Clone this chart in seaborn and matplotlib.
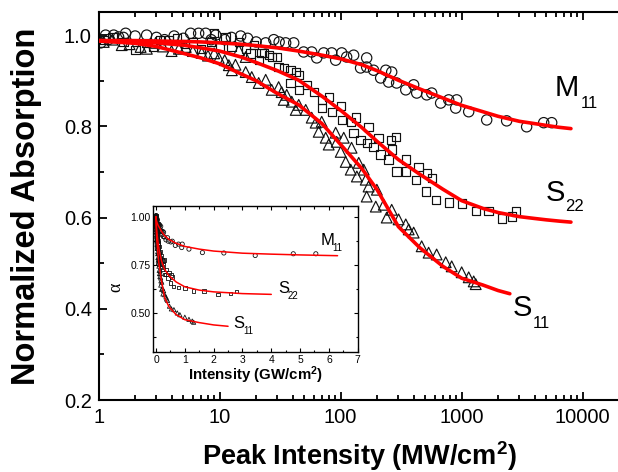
import numpy as np
import matplotlib
matplotlib.use("Agg")
import matplotlib.pyplot as plt
import seaborn as sns
from matplotlib.ticker import (MultipleLocator, LogLocator, NullFormatter,
                               FuncFormatter, FormatStrFormatter)

# ---------------- data (MW/cm^2, normalized absorption) ----------------
m11_x = [1.04, 1.14, 1.2, 1.33, 1.46, 1.6, 1.67, 2.0, 2.49, 3.0, 3.5, 4.2, 5.0, 5.75,
         6.7, 7.66, 8.5, 9.27, 11, 12.5, 14.9, 17, 20, 24, 28, 31, 35.1, 40.9,
         49.4, 57.6, 63.4, 72.4, 84.3, 90.9, 102, 112, 128, 146, 164, 164, 187, 214,
         236, 249, 264, 290, 345, 401, 425, 514, 565, 670, 781, 892, 910, 1143,
         1610, 2354, 3443, 4764, 5546]
m11_y = [0.983, 1.0, 0.99, 1.0, 0.996, 0.995, 1.004, 0.998, 1.0, 0.995, 0.99, 0.998,
         0.993, 1.004, 1.004, 1.004, 0.99, 1.0, 0.99, 0.995, 0.998, 0.993, 0.985,
         0.983, 0.99, 0.985, 0.983, 0.983,
         0.963, 0.963, 0.950, 0.961, 0.961, 0.945, 0.961, 0.952, 0.956, 0.928, 0.950,
         0.930, 0.923, 0.906, 0.923, 0.897, 0.919, 0.895, 0.880, 0.891, 0.873, 0.869,
         0.873, 0.851, 0.858, 0.840, 0.858, 0.832, 0.814, 0.812, 0.799, 0.808, 0.808]

s22_x = [1.1, 1.3, 1.6, 2.02, 2.45, 2.8, 3.2, 3.79, 4.41, 5.2, 6.0, 7.0, 8.43, 8.92,
         10, 11.2, 12.5, 14.4, 16.5, 18, 19.1, 21.0, 22.2, 23.1, 25.4, 26.9, 29.6,
         30.7, 33.8, 38.6, 38.6, 42.5, 45, 45,
         52.4, 59.8, 69.7, 79.6, 69.7, 84.3, 100, 102, 121, 133, 128, 146, 170, 164,
         187, 206, 214, 249, 264, 259, 285, 290, 345, 345, 417, 441, 514, 565, 504,
         610, 781, 1000, 1306, 1671, 2142, 2590, 2794]
s22_y = [0.99, 0.995, 0.985, 0.967, 0.983, 0.975, 0.99, 0.989, 0.993, 0.98, 0.985,
         0.97, 0.985, 1.004, 0.975, 0.996, 0.975, 0.985, 0.97, 0.96, 0.978, 0.945,
         0.961, 0.961, 0.956, 0.952, 0.952, 0.930, 0.928, 0.923, 0.895, 0.919, 0.913,
         0.880,
         0.891, 0.875, 0.858, 0.864, 0.840, 0.832, 0.845, 0.814, 0.810, 0.819, 0.786,
         0.770, 0.799, 0.764, 0.755, 0.775, 0.738, 0.727, 0.749, 0.770, 0.777, 0.701,
         0.727, 0.701, 0.683, 0.711, 0.698, 0.687, 0.657, 0.639, 0.633, 0.631, 0.615,
         0.615, 0.598, 0.602, 0.613]

s11_x = [1.1, 1.3, 1.55, 1.8, 2.22, 2.5, 2.96, 3.4, 4.0, 4.6, 5.24, 6.0, 7.1, 8.0,
         9.0, 9.81, 11, 11.9, 12.6, 13.5, 14.4, 16.4, 16.4, 18.4, 21.0, 24.0, 26.9,
         30.7, 32.5, 33.8, 35.8, 39.4, 42.5, 45.0,
         51.4, 57.6, 62.1, 69.7, 65.8, 75.2, 79.6, 90.9, 92.7, 106, 100, 123, 110,
         121, 141, 155, 136, 161, 170, 199, 164, 195, 227, 264, 240, 301, 345, 365,
         401, 467, 533, 621, 738, 827, 1000, 1143, 1257, 1306]
s11_y = [0.985, 0.99, 0.978, 0.98, 0.974, 0.97, 0.983, 0.975, 0.965, 0.97, 0.974,
         0.965, 0.961, 0.955, 0.96, 0.950, 0.945, 0.934, 0.923, 0.935, 0.967, 0.919,
         0.952, 0.908, 0.895, 0.902, 0.880, 0.886, 0.875, 0.858, 0.869, 0.854, 0.836,
         0.847,
         0.836, 0.819, 0.808, 0.810, 0.788, 0.775, 0.760, 0.786, 0.766, 0.775, 0.744,
         0.753, 0.722, 0.705, 0.720, 0.705, 0.690, 0.683, 0.668, 0.661, 0.646, 0.624,
         0.628, 0.617, 0.600, 0.596, 0.585, 0.574, 0.567, 0.537, 0.523, 0.519, 0.502,
         0.493, 0.480, 0.469, 0.460, 0.454]

# fitted curves
fit_m11_x = [1, 2, 3, 5, 7, 10, 15, 20, 30, 45, 70, 100, 150, 200, 300, 450, 700,
             1000, 1500, 2000, 3000, 4000, 5000, 6300, 8000]
fit_m11_y = [0.988, 0.988, 0.987, 0.986, 0.985, 0.983, 0.980, 0.977, 0.972, 0.965,
             0.956, 0.948, 0.935, 0.922, 0.901, 0.882, 0.862, 0.846, 0.832, 0.822,
             0.811, 0.806, 0.802, 0.798, 0.795]
fit_s22_x = [1, 2, 3, 5, 7, 10, 15, 20, 30, 45, 70, 100, 150, 200, 300, 450, 700,
             1000, 1500, 2000, 3000, 4000, 5000, 6500, 8000]
fit_s22_y = [0.988, 0.986, 0.983, 0.978, 0.972, 0.965, 0.952, 0.940, 0.922, 0.901,
             0.866, 0.835, 0.797, 0.767, 0.727, 0.695, 0.662, 0.637, 0.620, 0.611,
             0.602, 0.598, 0.595, 0.592, 0.590]
fit_s11_x = [1, 2, 3, 5, 7, 10, 15, 20, 30, 45, 70, 100, 150, 200, 300, 450, 700,
             1000, 1500, 2000, 2500]
fit_s11_y = [0.987, 0.982, 0.975, 0.960, 0.950, 0.937, 0.915, 0.900, 0.872, 0.847,
             0.806, 0.760, 0.707, 0.661, 0.580, 0.534, 0.493, 0.467, 0.452, 0.440,
             0.433]
fit_start_gw = 0.0      # inset curves begin at zero intensity ...
fit_start_alpha = 1.0   # ... with alpha = 1
inset_end_gw = {"M11": 6.3, "S22": 4.0, "S11": 2.5}

# ---------------- style ----------------
sns.set_theme(style="ticks")
plt.rcParams["font.family"] = ["Liberation Sans", "DejaVu Sans"]
plt.rcParams["mathtext.fontset"] = "custom"
plt.rcParams["mathtext.rm"] = "Liberation Sans"
plt.rcParams["mathtext.bf"] = "Liberation Sans:bold"
plt.rcParams["mathtext.default"] = "regular"
for key in ["text.color", "axes.labelcolor", "xtick.color", "ytick.color",
            "axes.edgecolor", "xtick.labelcolor", "ytick.labelcolor"]:
    plt.rcParams[key] = "black"

W, H = 618, 472
fig = plt.figure(figsize=(W / 100, H / 100), dpi=100)
ax = fig.add_axes([98.7 / W, (H - 400) / H, (W - 98.7) / W, (400 - 12.3) / H])

mk = dict(facecolor="none", edgecolor="#111111", linewidth=0.85, zorder=2)
sns.scatterplot(x=m11_x, y=m11_y, ax=ax, marker="o", s=55, **mk)
sns.scatterplot(x=s22_x, y=s22_y, ax=ax, marker="s", s=36, **mk)
sns.scatterplot(x=s11_x, y=s11_y, ax=ax, marker="^", s=60, **mk)
for fx, fy in [(fit_m11_x, fit_m11_y), (fit_s22_x, fit_s22_y), (fit_s11_x, fit_s11_y)]:
    sns.lineplot(x=fx, y=fy, ax=ax, color="#ff0000", linewidth=2.6,
                 estimator=None, sort=False, zorder=3)

ax.set_xscale("log")
ax.set_xlim(1, 10 ** 4.292)
ax.set_ylim(0.2, 1.05)
ax.xaxis.set_major_locator(LogLocator(base=10, numticks=10))
ax.xaxis.set_minor_locator(LogLocator(base=10, subs=np.arange(2, 10), numticks=20))
ax.xaxis.set_minor_formatter(NullFormatter())
ax.xaxis.set_major_formatter(FuncFormatter(lambda v, p: f"{v:g}"))
ax.yaxis.set_major_locator(MultipleLocator(0.2))
ax.yaxis.set_minor_locator(MultipleLocator(0.1))
ax.yaxis.set_major_formatter(FormatStrFormatter("%.1f"))
ax.tick_params(which="both", direction="in", top=True, right=False, width=1.3,
               colors="black", labelsize=14.5)
ax.tick_params(which="major", length=6)
ax.tick_params(which="minor", length=3.5)
ax.tick_params(axis="x", pad=6)
ax.tick_params(axis="y", pad=5)
for side in ["left", "bottom", "top"]:
    ax.spines[side].set_linewidth(1.5)
    ax.spines[side].set_color("black")
ax.spines["right"].set_visible(False)
ax.set_xlabel("")
ax.set_ylabel("")

fig.text(360 / W, (H - 465) / H, "Peak Intensity (MW/cm$^2$)", ha="center",
         va="baseline", fontsize=19.5, fontweight="bold", color="black")
fig.text(27 / W, (H - 206) / H, "Normalized Absorption", ha="center", va="center",
         rotation=90, fontsize=23.5, fontweight="bold", color="black")

# main labels
big, sub = 21, 12
ax.text(5900, 0.867, "M", fontsize=big, ha="left", va="baseline")
ax.text(9680, 0.840, "11", fontsize=sub, ha="left", va="baseline")
ax.text(4975, 0.636, "S", fontsize=big, ha="left", va="baseline")
ax.text(7140, 0.614, "22", fontsize=sub, ha="left", va="baseline")
ax.text(2655, 0.384, "S", fontsize=big, ha="left", va="baseline")
ax.text(3882, 0.358, "11", fontsize=sub, ha="left", va="baseline")

# ---------------- inset ----------------
ax2 = fig.add_axes([153.3 / W, (H - 352) / H, (358.3 - 153.3) / W, (352 - 206) / H])
mk2 = dict(facecolor="none", edgecolor="#111111", linewidth=0.6, zorder=2)
sns.scatterplot(x=np.array(m11_x) / 1000, y=m11_y, ax=ax2, marker="o", s=9, **mk2)
sns.scatterplot(x=np.array(s22_x) / 1000, y=s22_y, ax=ax2, marker="s", s=7, **mk2)
sns.scatterplot(x=np.array(s11_x) / 1000, y=s11_y, ax=ax2, marker="^", s=9, **mk2)
for key, fx, fy in [("M11", fit_m11_x, fit_m11_y), ("S22", fit_s22_x, fit_s22_y),
                    ("S11", fit_s11_x, fit_s11_y)]:
    gx = np.array(fx) / 1000
    keep = gx <= inset_end_gw[key] + 1e-9
    gx = np.concatenate([[fit_start_gw], gx[keep]])
    gy = np.concatenate([[fit_start_alpha], np.array(fy)[keep]])
    if gx[-1] < inset_end_gw[key]:
        gy = np.append(gy, np.interp(inset_end_gw[key], gx, gy))
        gx = np.append(gx, inset_end_gw[key])
    sns.lineplot(x=gx, y=gy, ax=ax2, color="#ff0000", linewidth=1.1,
                 estimator=None, sort=False, zorder=3)

ax2.set_xlim(-0.094, 7.02)
ax2.set_ylim(0.30, 1.055)
ax2.xaxis.set_major_locator(MultipleLocator(1))
ax2.xaxis.set_minor_locator(MultipleLocator(0.5))
ax2.yaxis.set_major_locator(MultipleLocator(0.25))
ax2.yaxis.set_minor_locator(MultipleLocator(0.125))
ax2.xaxis.set_major_formatter(FormatStrFormatter("%d"))
ax2.yaxis.set_major_formatter(FormatStrFormatter("%.2f"))
ax2.tick_params(which="both", direction="in", top=True, right=True, width=0.8,
                labelsize=7.5, pad=2, colors="black")
ax2.tick_params(which="major", length=3)
ax2.tick_params(which="minor", length=1.8)
for s in ax2.spines.values():
    s.set_linewidth(1.0)
    s.set_color("black")
ax2.set_xlabel("")
ax2.set_ylabel("")
fig.text(256 / W, (H - 380) / H, "Intensity (GW/cm$^2$)", ha="center", va="baseline",
         fontsize=10.8, fontweight="bold", color="black")
fig.text(116 / W, (H - 287) / H, "α", ha="center", va="center", rotation=90,
         fontsize=13, family=["Liberation Serif", "DejaVu Serif"], color="black")

ax2.text(5.71, 0.853, "M", fontsize=12, ha="left", va="baseline")
ax2.text(6.13, 0.822, "11", fontsize=7, ha="left", va="baseline")
ax2.text(4.25, 0.605, "S", fontsize=12, ha="left", va="baseline")
ax2.text(4.56, 0.574, "22", fontsize=7, ha="left", va="baseline")
ax2.text(2.68, 0.424, "S", fontsize=12, ha="left", va="baseline")
ax2.text(3.03, 0.393, "11", fontsize=7, ha="left", va="baseline")

fig.savefig("out.png", dpi=100)
